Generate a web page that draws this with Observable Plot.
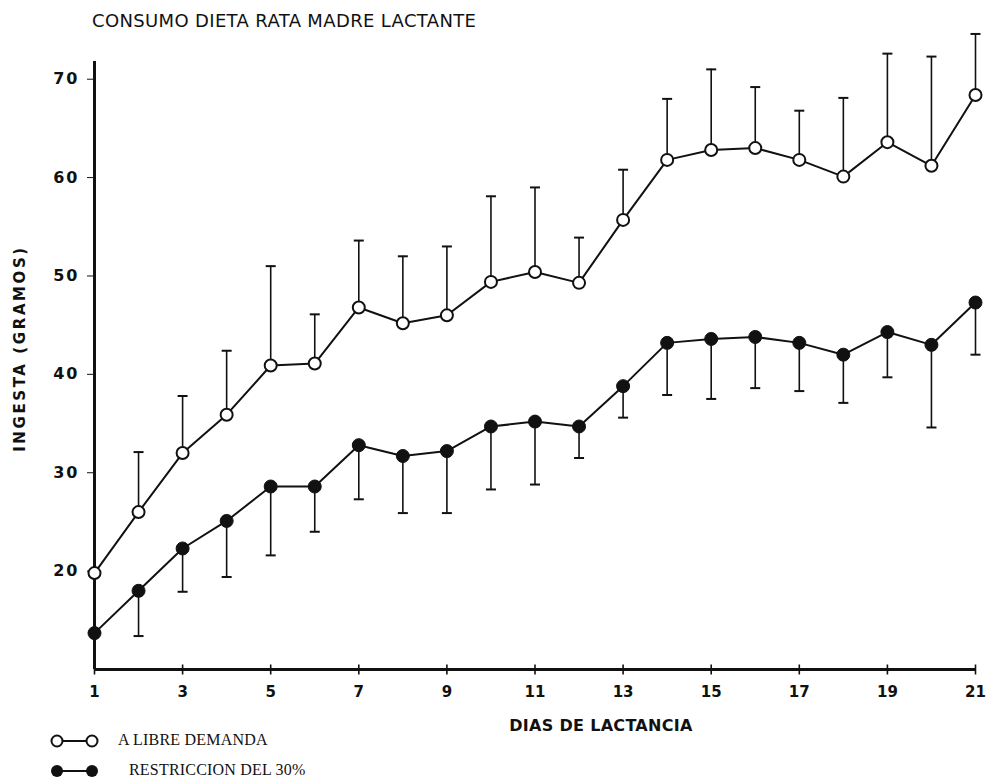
<!DOCTYPE html>
<html>
<head>
<meta charset="utf-8">
<script src="https://cdn.jsdelivr.net/npm/d3@7"></script>
<script src="https://cdn.jsdelivr.net/npm/@observablehq/plot@0.6"></script>
<style>
  html, body { margin: 0; padding: 0; background: #fff; }
  #wrap { position: relative; width: 986px; height: 783px; overflow: hidden; background: #fff; }
  #title { position: absolute; left: 92px; top: 10px; font-family: "DejaVu Sans", sans-serif; font-size: 18px; letter-spacing: 0.35px; color: #111; white-space: nowrap; }
  #chart { position: absolute; left: 0; top: 30px; }
  .leg { position: absolute; font-family: "Liberation Serif", serif; font-size: 16px; color: #111; white-space: nowrap; letter-spacing: 0.2px; }
  .legsym { position: absolute; }
</style>
</head>
<body>
<div id="wrap">
  <div id="title">CONSUMO DIETA RATA MADRE LACTANTE</div>
  <div id="chart"></div>
  <svg class="legsym" style="left:46px; top:731px" width="60" height="20">
    <line x1="11" y1="10" x2="46" y2="10" stroke="#111" stroke-width="2"/>
    <circle cx="11" cy="10" r="5.5" fill="#fff" stroke="#111" stroke-width="2"/>
    <circle cx="46" cy="10" r="5.5" fill="#fff" stroke="#111" stroke-width="2"/>
  </svg>
  <div class="leg" style="left:118px; top:731px">A LIBRE DEMANDA</div>
  <svg class="legsym" style="left:46px; top:761px" width="60" height="20">
    <line x1="11" y1="10" x2="46" y2="10" stroke="#111" stroke-width="2"/>
    <circle cx="11" cy="10" r="6" fill="#111"/>
    <circle cx="46" cy="10" r="6" fill="#111"/>
  </svg>
  <div class="leg" style="left:129px; top:761px">RESTRICCION DEL 30%</div>
</div>
<script>
// ---- data ----
const days = [1, 2, 3, 4, 5, 6, 7, 8, 9, 10, 11, 12, 13, 14, 15, 16, 17, 18, 19, 20, 21];
const libreDemanda = [19.8, 26.0, 32.0, 35.9, 40.9, 41.1, 46.8, 45.2, 46.0, 49.4, 50.4, 49.3, 55.7, 61.8, 62.8, 63.0, 61.8, 60.1, 63.6, 61.2, 68.4];
const libreUpper = [null, 32.1, 37.8, 42.4, 51.0, 46.1, 53.6, 52.0, 53.0, 58.1, 59.0, 53.9, 60.8, 68.0, 71.0, 69.2, 66.8, 68.1, 72.6, 72.3, 74.6];
const restriccion = [13.7, 18.0, 22.3, 25.1, 28.6, 28.6, 32.8, 31.7, 32.2, 34.7, 35.2, 34.7, 38.8, 43.2, 43.6, 43.8, 43.2, 42.0, 44.3, 43.0, 47.3];
const restriccionLower = [null, 13.4, 17.9, 19.4, 21.6, 24.0, 27.3, 25.9, 25.9, 28.3, 28.8, 31.5, 35.6, 37.9, 37.5, 38.6, 38.3, 37.1, 39.7, 34.6, 42.0];
const xTicks = [1, 3, 5, 7, 9, 11, 13, 15, 17, 19, 21];
const yTicks = [20, 30, 40, 50, 60, 70];
const yDomain = [10, 71.8];
const xLabel = "DIAS DE LACTANCIA";
const yLabel = "INGESTA (GRAMOS)";

const rows = days.map((d, i) => ({
  day: d,
  libre: libreDemanda[i],
  up: libreUpper[i],
  restr: restriccion[i],
  low: restriccionLower[i]
}));
const upRows = rows.filter(d => d.up != null);
const lowRows = rows.filter(d => d.low != null);

const hline = { draw(ctx, size) { const r = Math.sqrt(size / Math.PI); ctx.moveTo(-r, 0); ctx.lineTo(r, 0); } };
const vline = { draw(ctx, size) { const r = Math.sqrt(size / Math.PI); ctx.moveTo(0, -r); ctx.lineTo(0, r); } };

const ink = "#111";

const chart = Plot.plot({
  width: 986,
  height: 753,
  marginLeft: 94,
  marginRight: 11,
  marginTop: 31,
  marginBottom: 114,
  style: { fontFamily: "DejaVu Sans, sans-serif", fontSize: "15px", fontWeight: "bold", color: ink, background: "white" },
  x: { domain: [days[0], days[days.length - 1]], ticks: xTicks, tickSize: 0, tickPadding: 17, label: null, tickFormat: d => String(d) },
  y: { domain: yDomain, ticks: yTicks, tickSize: 7, tickPadding: 8, label: null, tickFormat: d => String(d) },
  marks: [
    // axis lines
    Plot.ruleX([days[0]], { stroke: ink, strokeWidth: 3 }),
    Plot.ruleY([yDomain[0]], { stroke: ink, strokeWidth: 3 }),
    Plot.dot(xTicks, { x: d => d, y: () => yDomain[0], symbol: vline, r: 5, fill: "none", stroke: ink, strokeWidth: 1.6 }),
    // error bars
    Plot.ruleX(upRows, { x: "day", y1: "libre", y2: "up", stroke: ink, strokeWidth: 1.6 }),
    Plot.dot(upRows, { x: "day", y: "up", symbol: hline, r: 5, fill: "none", stroke: ink, strokeWidth: 2 }),
    Plot.ruleX(lowRows, { x: "day", y1: "restr", y2: "low", stroke: ink, strokeWidth: 1.6 }),
    Plot.dot(lowRows, { x: "day", y: "low", symbol: hline, r: 5, fill: "none", stroke: ink, strokeWidth: 2 }),
    // lines
    Plot.line(rows, { x: "day", y: "libre", stroke: ink, strokeWidth: 2 }),
    Plot.line(rows, { x: "day", y: "restr", stroke: ink, strokeWidth: 2 }),
    // points
    Plot.dot(rows, { x: "day", y: "libre", r: 6, fill: "white", stroke: ink, strokeWidth: 2 }),
    Plot.dot(rows, { x: "day", y: "restr", r: 6.5, fill: ink, stroke: ink, strokeWidth: 1 }),
    // axis titles
    Plot.text([yLabel], { text: d => d, frameAnchor: "left", rotate: -90, dx: -74, dy: -17, textAnchor: "middle", lineAnchor: "middle", fontSize: 15, fontWeight: "bold", fill: ink }),
    Plot.text([xLabel], { text: d => d, frameAnchor: "bottom", dx: 66, dy: 56, textAnchor: "middle", lineAnchor: "middle", fontSize: 16, fontWeight: "bold", fill: ink })
  ]
});
document.getElementById("chart").appendChild(chart);

// letter spacing / size tweaks (style only)
d3.select(chart).selectAll("text").each(function () {
  const t = this.textContent;
  const g = this.closest("g");
  const aria = g ? (g.getAttribute("aria-label") || "") : "";
  if (t === yLabel) this.setAttribute("letter-spacing", "2.6px");
  else if (t === xLabel) this.setAttribute("letter-spacing", "0.3px");
  else if (yTicks.map(String).includes(t) && aria.includes("y-axis")) {
    this.setAttribute("letter-spacing", "2px");
    this.style.fontSize = "16px";
  }
});
</script>
</body>
</html>
